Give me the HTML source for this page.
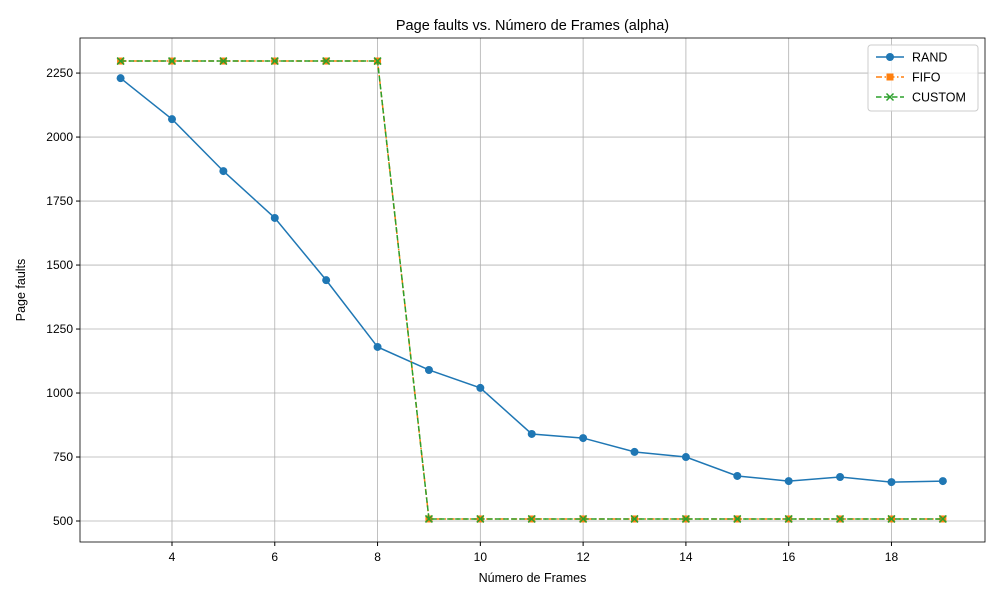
<!DOCTYPE html>
<html><head><meta charset="utf-8"><style>body{margin:0;background:#fff}svg{font-family:"Liberation Sans","DejaVu Sans",sans-serif}</style></head>
<body>
<svg id="chart" width="1000" height="600" xmlns="http://www.w3.org/2000/svg"></svg>
<script>
const frames=[3,4,5,6,7,8,9,10,11,12,13,14,15,16,17,18,19];
const randFaults=[2230,2070,1867,1684,1441,1180,1090,1020,840,824,770,750,676,656,672,652,656];
const fifoFaults=[2297,2297,2297,2297,2297,2297,508,508,508,508,508,508,508,508,508,508,508];
const customFaults=[2297,2297,2297,2297,2297,2297,508,508,508,508,508,508,508,508,508,508,508];
const xTicks=[4,6,8,10,12,14,16,18];
const yTicks=[500,750,1000,1250,1500,1750,2000,2250];
const L=80,R=985,T=38,B=542,xMin=2.21,xMax=19.82,yMin=418,yMax=2387;
const sx=v=>L+(v-xMin)/(xMax-xMin)*(R-L);
const sy=v=>B-(v-yMin)/(yMax-yMin)*(B-T);
const svg=document.getElementById('chart');const NS='http://www.w3.org/2000/svg';
function el(t,a,p){const e=document.createElementNS(NS,t);for(const k in a)e.setAttribute(k,a[k]);(p||svg).appendChild(e);return e;}
function tx(s,a,n){const e=el('text',a);e.textContent=s;

return e;}
const grid=el('g',{});


xTicks.forEach(v=>{el('line',{x1:sx(v),x2:sx(v),y1:T,y2:B,stroke:'#b0b0b0','stroke-width':0.8},grid);el('line',{x1:sx(v),x2:sx(v),y1:B,y2:B+4,stroke:'#000'});
tx(v,{x:sx(v),y:B+19,'font-size':12,'text-anchor':'middle'},'x-tick-label');});
yTicks.forEach(v=>{el('line',{y1:sy(v),y2:sy(v),x1:L,x2:R,stroke:'#b0b0b0','stroke-width':0.8},grid);el('line',{y1:sy(v),y2:sy(v),x1:L-4,x2:L,stroke:'#000'});
tx(v,{x:L-7,y:sy(v)+4,'font-size':12,'text-anchor':'end'},'y-tick-label');});
const ax=el('rect',{x:L,y:T,width:R-L,height:B-T,fill:'none',stroke:'#000','stroke-width':0.8});


function series(vals,color,dash,marker,name){const g=el('g',{});


el('polyline',{points:frames.map((f,i)=>sx(f)+','+sy(vals[i])).join(' '),fill:'none',stroke:color,'stroke-width':1.5,'stroke-dasharray':dash},g);
frames.forEach((f,i)=>drawMarker(g,marker,sx(f),sy(vals[i]),color));}
function drawMarker(g,m,x,y,c){if(m==='o')el('circle',{cx:x,cy:y,r:4,fill:c},g);else if(m==='s')el('rect',{x:x-3.5,y:y-3.5,width:7,height:7,fill:c},g);else{el('path',{d:`M${x-3.5},${y-3.5}L${x+3.5},${y+3.5}M${x-3.5},${y+3.5}L${x+3.5},${y-3.5}`,stroke:c,'stroke-width':1.5},g);}}
series(randFaults,'#1f77b4','none','o','rand-series');
series(fifoFaults,'#ff7f0e','6 2.5 1.5 2.5','s','fifo-series');
series(customFaults,'#2ca02c','5.5 2.5','x','custom-series');
tx('Page faults vs. Número de Frames (alpha)',{x:(L+R)/2,y:30,'font-size':14.5,'text-anchor':'middle'},'chart-title');
tx('Número de Frames',{x:(L+R)/2,y:582,'font-size':12.5,'text-anchor':'middle'},'x-axis-title');
tx('Page faults',{x:25,y:(T+B)/2,'font-size':12.5,'text-anchor':'middle',transform:`rotate(-90 25 ${(T+B)/2})`},'y-axis-title');
const lg=el('g',{});


el('rect',{x:868,y:45,width:110,height:66,rx:3,fill:'#fff','fill-opacity':0.8,stroke:'#ccc'},lg);
[['RAND','#1f77b4','none','o'],['FIFO','#ff7f0e','6 2.5 1.5 2.5','s'],['CUSTOM','#2ca02c','5.5 2.5','x']].forEach((d,i)=>{const y=57+i*20;
el('line',{x1:876,x2:904,y1:y,y2:y,stroke:d[1],'stroke-width':1.5,'stroke-dasharray':d[2]},lg);drawMarker(lg,d[3],890,y,d[1]);
const t=el('text',{x:912,y:y+4.5,'font-size':12.5},lg);t.textContent=d[0];

});
</script>
</body></html>
